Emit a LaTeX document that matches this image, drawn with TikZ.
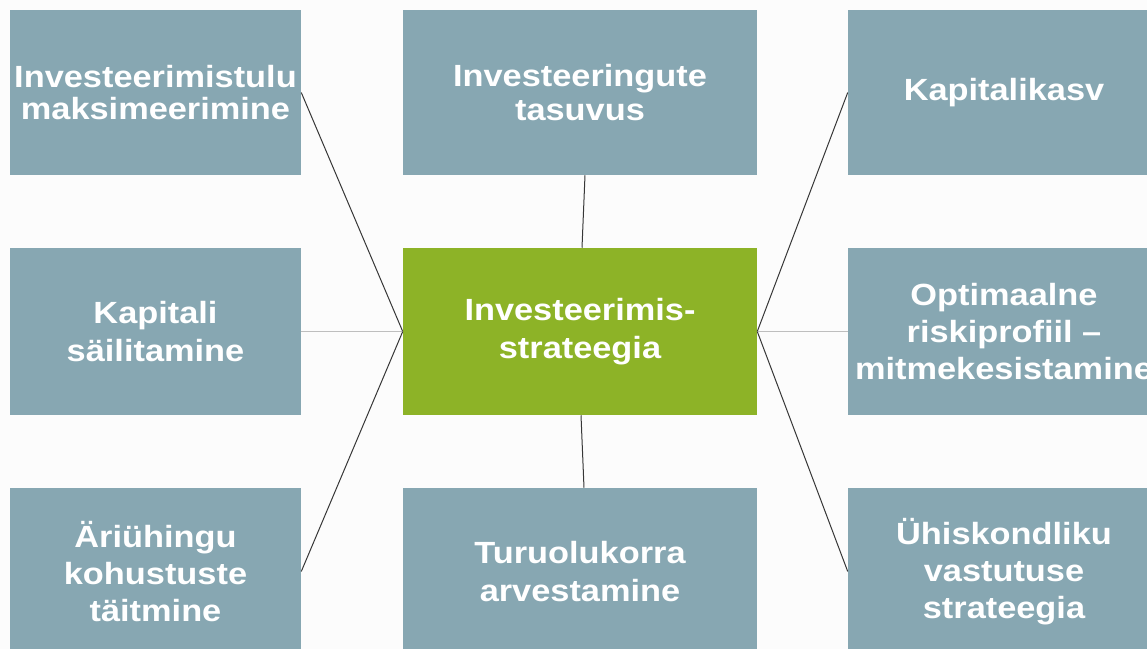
\documentclass[tikz,border=0pt]{standalone}
\usepackage{fontspec}
\setmainfont{Liberation Sans}[FakeStretch=1.12]
\definecolor{boxc}{RGB}{135,167,178}
\definecolor{greenc}{RGB}{141,179,39}
\definecolor{bgc}{RGB}{252,252,252}
\definecolor{hlinec}{RGB}{190,190,190}
\definecolor{dlinec}{RGB}{55,55,55}
\begin{document}
\begin{tikzpicture}[x=0.75pt,y=-0.75pt,
  box/.style={fill=boxc, draw=none, inner sep=0pt, align=center, text=white,
    font=\fontsize{23}{28}\selectfont\bfseries},
  centerbox/.style={box, fill=greenc},
  lw/.style={minimum width=218.25pt},
  mw/.style={minimum width=265.5pt},
  rw/.style={minimum width=234pt},
  th/.style={minimum height=123.75pt},
  bh/.style={minimum height=125.25pt},
  conn/.style={draw=dlinec, line width=0.75pt},
  hconn/.style={draw=hlinec, line width=1.1pt}]
\clip (0,0) rectangle (1147,649);
\fill[bgc] (0,0) rectangle (1147,649);
% boxes
\node[box, lw, th, font=\fontsize{23}{24}\selectfont\bfseries] (tl) at (155.5,92.5) {Investeerimistulu\\maksimeerimine};
\node[box, mw, th, font=\fontsize{23}{26}\selectfont\bfseries] (tm) at (580,92.5) {Investeeringute\\tasuvus};
\node[box, rw, th] (tr) at (1004,92.5) {Kapitalikasv};
\node[box, lw, bh] (ml) at (155.5,331.5) {Kapitali\\säilitamine};
\node[centerbox, mw, bh] (c) at (580,331.5) {Investeerimis-\\strateegia};
\node[box, rw, bh] (mr) at (1004,331.5) {Optimaalne\\riskiprofiil –\\mitmekesistamine};
\node[box, lw, bh] (bl) at (155.5,571.5) {Äriühingu\\kohustuste\\täitmine};
\node[box, mw, bh] (bm) at (580,571.5) {Turuolukorra\\arvestamine};
\node[box, rw, bh] (br) at (1004,571.5) {Ühiskondliku\\vastutuse\\strateegia};
% connectors
\draw[conn] (tl.east) -- (c.west);
\draw[hconn] (ml.east) -- (c.west);
\draw[conn] (bl.east) -- (c.west);
\draw[conn] ([xshift=3.75pt]tm.south) -- ([xshift=1.5pt]c.north);
\draw[conn] ([xshift=0.75pt]c.south) -- ([xshift=3pt]bm.north);
\draw[conn] (c.east) -- (tr.west);
\draw[hconn] (c.east) -- (mr.west);
\draw[conn] (c.east) -- (br.west);
\end{tikzpicture}
\end{document}
